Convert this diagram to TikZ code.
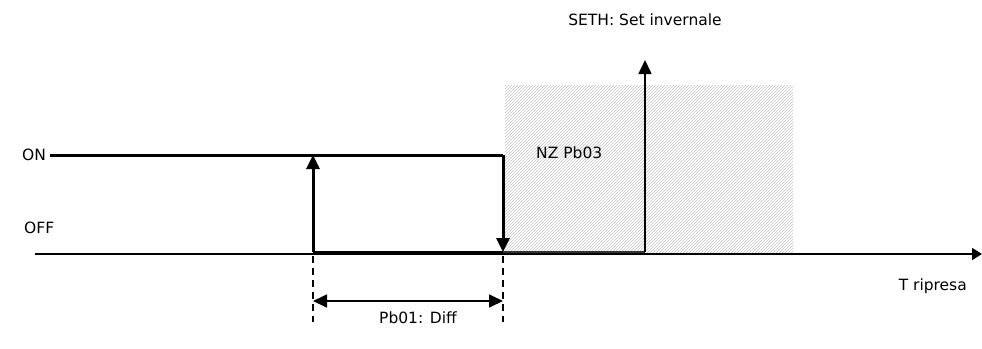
\documentclass[tikz,border=0pt]{standalone}
\usepackage{fontspec}
\setmainfont{DejaVu Sans}
\usetikzlibrary{arrows.meta,patterns}
\tikzset{
  lbl/.style={inner sep=0pt,font=\fontsize{15.5}{18}\selectfont},
  relay/.style={line width=3pt,-{Triangle[length=14pt,width=13pt]}},
  dim/.style={line width=1.4pt,dash pattern=on 7pt off 5pt}
}

\begin{document}
\begin{tikzpicture}[x=1pt,y=-1pt,>={Triangle[length=14pt,width=13pt]}]
    \useasboundingbox (0,0) rectangle (982,348);
    % zona neutra
    \fill[pattern=north east lines,pattern color=gray!45] (505,85) rectangle (793,252);
    % assi e punti
    \coordinate (ax0) at (35,254);
    \coordinate (ax1) at (982,254);
    \coordinate (on0) at (50,155);
    \coordinate (up) at (313,252);
    \coordinate (upt) at (313,155);
    \coordinate (dn) at (503,155);
    \coordinate (dnb) at (503,252);
    \coordinate (set) at (645,252);
    \coordinate (sett) at (645,60);
    \draw[line width=1.6pt,-{Triangle[length=10pt,width=12pt]}] (ax0) -- (ax1);
    \draw[line width=3pt] (on0) -- (dn);
    \draw[relay] (up) -- (upt);
    \draw[relay] (dn) -- (dnb);
    \draw[line width=3pt] (up) -- (dnb);
    \draw[line width=1.6pt,black!80] (dnb) -- (set);
    \draw[line width=1.6pt,->] (set) -- (sett);
    % differenziale
    \coordinate (d0) at (313,322);
    \coordinate (d1) at (503,322);
    \draw[dim] (313,256) -- (d0);
    \draw[dim] (503,256) -- (d1);
    \draw[line width=1.6pt,<->] (313,301) -- (503,301);
    % testi
    \node[lbl,anchor=west] (on) at (22,155) {ON};
    \node[lbl,anchor=west] (off) at (24,228) {OFF};
    \node[lbl,anchor=west] (nz) at (536,153) {NZ Pb03};
    \node[lbl] (seth) at (645,20) {SETH: Set invernale};
    \node[lbl] (diff) at (418,318) {Pb01: Diff};
    \node[lbl,anchor=east] (tr) at (967,286) {T ripresa};
\end{tikzpicture}
\end{document}
